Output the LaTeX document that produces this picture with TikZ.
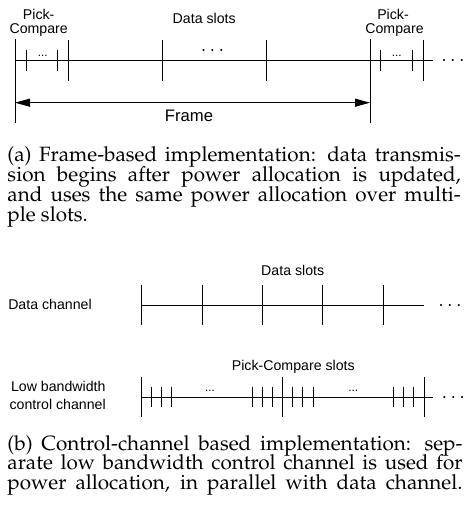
\documentclass[tikz,border=0pt]{standalone}
\usepackage{fontspec}
\newfontfamily\arialfont{Liberation Sans}
\usetikzlibrary{arrows.meta}
\newcommand\capfont{\fontencoding{OT1}\fontfamily{ppl}\fontsize{12.4}{12}\selectfont}
\begin{document}
\begin{tikzpicture}[x=0.6pt,y=-0.6pt,line width=0.6pt,
  lbl/.style={font=\arialfont\fontsize{8.5}{10}\selectfont,inner sep=0,anchor=base},
  bigdots/.style={font=\fontsize{12}{12}\selectfont,inner sep=0,anchor=base},
  smalldots/.style={font=\arialfont\fontsize{7}{8}\selectfont,inner sep=0,anchor=base},
  capline/.style={font=\capfont,inner sep=0,anchor=base west},
  framearrow/.style={>={Triangle[length=9pt,width=4.8pt]},<->}]
\useasboundingbox (0,0) rectangle (464,505);
% ---------- (a) frame-based ----------
\coordinate (a0) at (15,60.7);
\coordinate (a1) at (433,60.7);
\draw (a0) -- (a1);
\foreach \x in {68,162,266,423} \draw (\x,40) -- (\x,81);
\foreach \x in {15,370} \draw (\x,39) -- (\x,123);
\foreach \x in {26,57.7,380.7,412.3} \draw (\x,50) -- (\x,71);
\coordinate (fl) at (15,102.7);
\coordinate (fr) at (370,102.7);
\draw[framearrow] (fl) -- (fr);
\node[lbl] (pick1) at (38.7,20) {Pick-};
\node[lbl] (comp1) at (38.7,33.3) {Compare};
\node[lbl] (pick2) at (393,20) {Pick-};
\node[lbl] (comp2) at (394.5,33.3) {Compare};
\node[lbl] (slotsA) at (204.2,23.3) {Data slots};
\node[lbl,font=\arialfont\fontsize{10}{12}\selectfont] (frame) at (189,121.7) {Frame};
\node[bigdots] (dotsA1) at (212.5,55.7) {$\cdots$};
\node[bigdots] (dotsA2) at (453,65.7) {$\cdots$};
\node[smalldots] (sdA1) at (42.7,56.5) {...};
\node[smalldots] (sdA2) at (396.7,56.5) {...};
\node[capline] (ca1) at (7,161) {\makebox[272pt][s]{(a) Frame-based implementation: data transmis-}};
\node[capline] (ca2) at (7,181) {\makebox[272pt][s]{sion begins after power allocation is updated,}};
\node[capline] (ca3) at (7,201) {\makebox[272pt][s]{and uses the same power allocation over multi-}};
\node[capline] (ca4) at (7,221) {ple slots.};
% ---------- (b) control channel ----------
\node[lbl] (slotsB) at (292.7,275.7) {Data slots};
\node[lbl] (dch) at (50,309.5) {Data channel};
\coordinate (b0) at (141.7,305);
\coordinate (b1) at (424,305);
\draw (b0) -- (b1);
\foreach \x in {141.7,202.1,262.5,322.9,383.3} \draw (\x,285) -- (\x,325);
\node[bigdots] (dotsB1) at (450,310) {$\cdots$};
\node[lbl] (pcs) at (293.3,370) {Pick-Compare slots};
\node[lbl] (lb1) at (58.3,391.7) {Low bandwidth};
\node[lbl] (lb2) at (57.7,409.3) {control channel};
\coordinate (c0) at (141.7,397.3);
\coordinate (c1) at (432.7,397.3);
\draw (c0) -- (c1);
\foreach \x in {141.7,282.7,424} \draw (\x,376.7) -- (\x,416.7);
\foreach \x in {151.7,161.7,171.7,252.7,262.7,272.7,292.7,302.7,313.3,393.3,403.3,413.3}
  \draw (\x,386.7) -- (\x,406.7);
\node[smalldots] (sdB1) at (210,391) {...};
\node[smalldots] (sdB2) at (353.3,391) {...};
\node[bigdots] (dotsB2) at (453.3,402.3) {$\cdots$};
\node[capline] (cb1) at (7,450) {\makebox[273pt][s]{(b) Control-channel based implementation: sep-}};
\node[capline] (cb2) at (7,469.5) {\makebox[273pt][s]{arate low bandwidth control channel is used for}};
\node[capline] (cb3) at (7,489) {\makebox[273pt][s]{power allocation, in parallel with data channel.}};
\end{tikzpicture}
\end{document}
